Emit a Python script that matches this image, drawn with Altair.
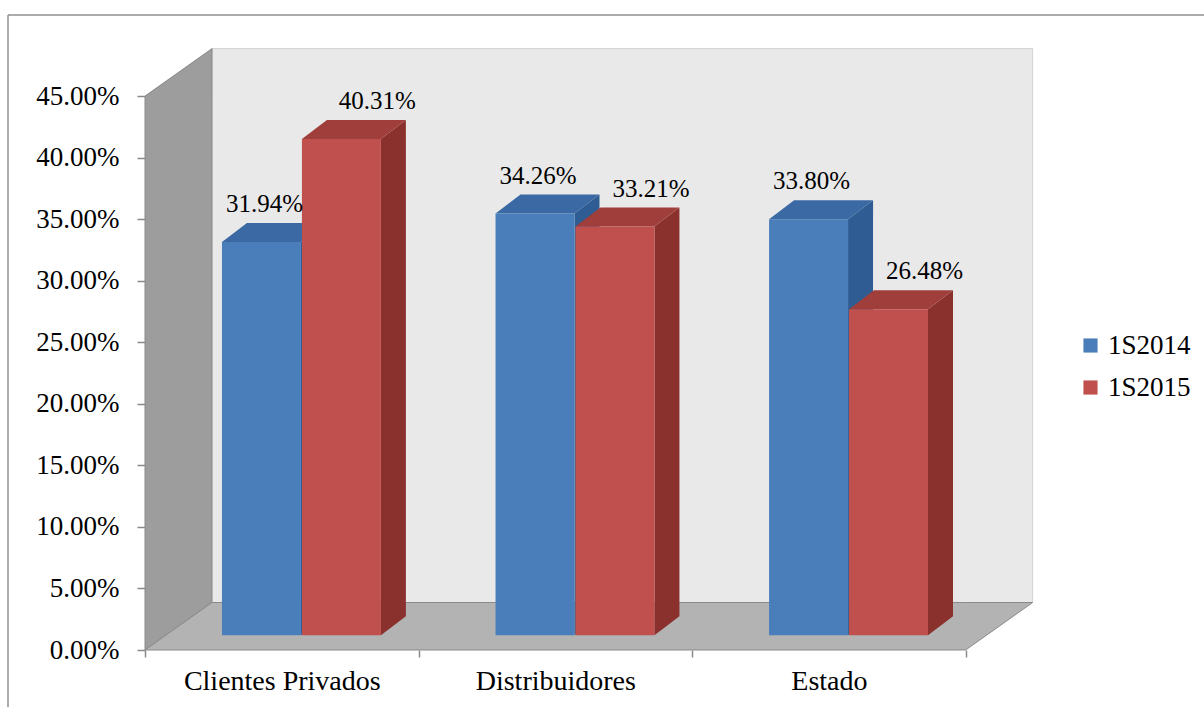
import altair as alt
import pandas as pd

# ---- data ----
categories = ["Clientes Privados", "Distribuidores", "Estado"]
series = ["1S2014", "1S2015"]
values_2014 = [31.94, 34.26, 33.80]
values_2015 = [40.31, 33.21, 26.48]
y_ticks = [0, 5, 10, 15, 20, 25, 30, 35, 40, 45]

# ---- styling / 3D layout constants (not data) ----
FONT = "Liberation Serif"
front_colors = ["#4a7ebb", "#c0504d"]
side_colors = ["#2f5c92", "#8a302d"]
top_colors = ["#3b69a3", "#a03e3b"]

PX_X = 821 / 3.0            # px per category unit
PX_Y = 554 / 45.0           # px per percentage point
DX_WALL = 67 / PX_X         # depth of the floor / side wall (x)
DY_WALL = 47.5 / PX_Y       # depth of the floor / side wall (y)
YTOP = 45 + DY_WALL + 0.05
XMAX = 3 + DX_WALL + 0.005
W = round(XMAX * PX_X)
H = round(YTOP * PX_Y)

BASE = 1.2                  # front face of bars sits this high in the floor
BAR_START = [77 / PX_X, 157 / PX_X]
BAR_W = 79 / PX_X
CAP_DX = 25 / PX_X
CAP_DY = 19 / PX_Y
LABEL_DX = [3 / PX_X, 36 / PX_X]
LABEL_DY = 3.63

# ---- derived tables ----
bars, sides, tops, labels = [], [], [], []
for s_i, (s, vals) in enumerate(zip(series, [values_2014, values_2015])):
    for c_i, (c, v) in enumerate(zip(categories, vals)):
        bid = f"{s}-{c}"
        xs = c_i + BAR_START[s_i]
        xe = xs + BAR_W
        yt = v + BASE
        bars.append(dict(series=s, x=xs, x2=xe, y=BASE, y2=yt))
        sides.append(dict(series=s, id=bid, x=xe, y=BASE, y2=yt))
        sides.append(dict(series=s, id=bid, x=xe + CAP_DX, y=BASE + CAP_DY, y2=yt + CAP_DY))
        tops.append(dict(series=s, id=bid, x=xs, y=yt, y2=yt))
        tops.append(dict(series=s, id=bid, x=xs + CAP_DX, y=yt, y2=yt + CAP_DY))
        tops.append(dict(series=s, id=bid, x=xe, y=yt, y2=yt + CAP_DY))
        tops.append(dict(series=s, id=bid, x=xe + CAP_DX, y=yt + CAP_DY, y2=yt + CAP_DY))
        labels.append(dict(series=s, x=(xs + xe) / 2 + LABEL_DX[s_i], y=v + LABEL_DY,
                           text=f"{v:.2f}%"))

bars = pd.DataFrame(bars)
sides = pd.DataFrame(sides)
tops = pd.DataFrame(tops)
labels = pd.DataFrame(labels)

back_wall = pd.DataFrame([dict(x=DX_WALL, x2=3 + DX_WALL, y=DY_WALL, y2=45 + DY_WALL)])
left_wall = pd.DataFrame([dict(x=0, y=0, y2=45), dict(x=DX_WALL, y=DY_WALL, y2=45 + DY_WALL)])
floor = pd.DataFrame([
    dict(x=0, y=0, y2=0), dict(x=DX_WALL, y=0, y2=DY_WALL),
    dict(x=3, y=0, y2=DY_WALL), dict(x=3 + DX_WALL, y=DY_WALL, y2=DY_WALL)])

xscale = alt.Scale(domain=[0, XMAX], nice=False, zero=False)
yscale = alt.Scale(domain=[0, YTOP], nice=False)

label_expr = " : ".join(
    [f"datum.value == {i + 0.5} ? '{c}'" for i, c in enumerate(categories)]) + " : ''"

x_axis = alt.Axis(
    values=[0, 0.5, 1, 1.5, 2, 2.5, 3], labelExpr=label_expr, title=None,
    domain=False, grid=False, tickSize=7, tickColor="#8a8a8a", tickWidth=1.5,
    tickOpacity={"condition": {"test": "datum.value % 1 === 0", "value": 1}, "value": 0},
    labelFont=FONT, labelFontSize=28, labelColor="#000000", labelPadding=10,
    labelOverlap=False, labelFlush=False, labelBound=False, labelLimit=1000,
)
y_axis = alt.Axis(
    values=y_ticks, labelExpr="format(datum.value, '.2f') + '%'", title=None,
    domain=False, grid=False, tickSize=8, tickColor="#8a8a8a", tickWidth=1.5,
    labelFont=FONT, labelFontSize=27, labelColor="#000000", labelPadding=18,
    labelOverlap=False, labelFlush=False, labelLimit=1000,
)


def X(field="x"):
    return alt.X(f"{field}:Q", scale=xscale, axis=x_axis)


def Y(field="y", stack=True):
    if stack:
        return alt.Y(f"{field}:Q", scale=yscale, axis=y_axis)
    return alt.Y(f"{field}:Q", scale=yscale, axis=y_axis, stack=False)


wall_layer = alt.Chart(back_wall).mark_rect(color="#e9e9e9", stroke="#d2d2d2", strokeWidth=1).encode(
    x=X(), x2="x2:Q", y=Y(), y2="y2:Q",
)
left_layer = alt.Chart(left_wall).mark_area(color="#9d9d9d", stroke="#8a8a8a", strokeWidth=1).encode(
    x=X(), y=Y(stack=False), y2="y2:Q",
)
floor_layer = alt.Chart(floor).mark_area(color="#b3b3b3", stroke="#8a8a8a", strokeWidth=1).encode(
    x=X(), y=Y(stack=False), y2="y2:Q",
)

side_layer = alt.Chart(sides).mark_area(opacity=1).encode(
    x=X(), y=Y(stack=False), y2="y2:Q",
    detail="id:N",
    color=alt.Color("series:N", scale=alt.Scale(domain=series, range=side_colors), legend=None),
)
top_layer = alt.Chart(tops).mark_area(opacity=1).encode(
    x=X(), y=Y(stack=False), y2="y2:Q",
    detail="id:N",
    color=alt.Color("series:N", scale=alt.Scale(domain=series, range=top_colors), legend=None),
)
front_layer = alt.Chart(bars).mark_rect(opacity=1).encode(
    x=X(), x2="x2:Q", y=Y(), y2="y2:Q",
    color=alt.Color(
        "series:N", scale=alt.Scale(domain=series, range=front_colors),
        legend=alt.Legend(
            title=None, orient="none", legendX=932, legendY=284,
            symbolType="square", symbolSize=200, symbolStrokeWidth=1,
            labelFont=FONT, labelFontSize=27, labelColor="#000000",
            labelOffset=4, rowPadding=14, padding=0, labelLimit=1000,
        ),
    ),
)
text_layer = alt.Chart(labels).mark_text(
    font=FONT, fontSize=25, color="#000000", baseline="alphabetic", align="center"
).encode(
    x=X(), y=Y(),
    text="text:N",
)

frame_top = alt.Chart(back_wall).mark_rule(color="#8f8f8f", strokeWidth=1.5).encode(
    x=alt.value(-137), x2=alt.value(1204 - 145), y=alt.value(15 - 48)
)
frame_left = alt.Chart(back_wall).mark_rule(color="#8f8f8f", strokeWidth=1.5).encode(
    x=alt.value(-137), y=alt.value(15 - 48), y2=alt.value(707 - 48)
)

chart = alt.layer(
    wall_layer, left_layer, floor_layer, side_layer, top_layer, front_layer, text_layer,
    frame_top, frame_left,
).resolve_scale(color="independent").properties(
    width=W, height=H,
    autosize=alt.AutoSizeParams(type="none"),
    padding={"left": 145, "top": 48, "right": 1204 - 145 - W, "bottom": 707 - 48 - H},
    background="#ffffff",
).configure(font=FONT).configure_view(stroke=None)

chart.save("out.html", embed_options={"renderer": "svg", "actions": False})
